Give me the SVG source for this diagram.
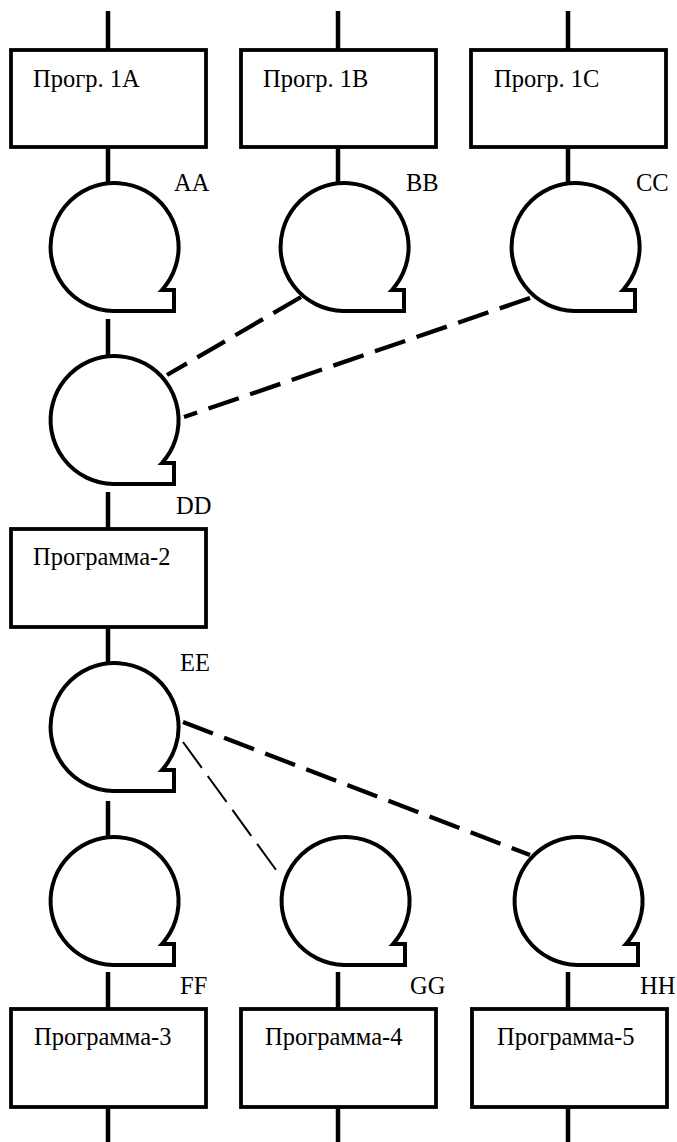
<svg xmlns="http://www.w3.org/2000/svg" xmlns:xlink="http://www.w3.org/1999/xlink" width="677" height="1142" viewBox="0 0 677 1142">
<style>
.box{fill:#fff;stroke:#000;stroke-width:3.8}
.disk{fill:#fff;stroke:#000;stroke-width:4;stroke-linejoin:miter}
.ln{stroke:#000;stroke-width:4.5;fill:none}
.dash{stroke:#000;stroke-width:4.3;stroke-dasharray:32 12;fill:none}
.thin{stroke:#000;stroke-width:2;stroke-dasharray:32 10;fill:none}
text{font-family:"Liberation Serif","Times New Roman",serif;font-size:24.5px;fill:#000}
</style>
<defs>
<path id="diskshape" d="M49,43 A64,64 0 1 0 0,64 L61,64 L61,43 Z"/>
</defs>
<rect width="677" height="1142" fill="#fff"/>
<g id="connectors">
<line class="ln" x1="108" y1="11" x2="108" y2="50"/>
<line class="ln" x1="338" y1="11" x2="338" y2="50"/>
<line class="ln" x1="568" y1="11" x2="568" y2="50"/>
<line class="ln" x1="108" y1="147" x2="108" y2="184"/>
<line class="ln" x1="338" y1="147" x2="338" y2="184"/>
<line class="ln" x1="568" y1="147" x2="568" y2="184"/>
<line class="ln" x1="108" y1="319" x2="108" y2="357"/>
<line class="ln" x1="108" y1="492" x2="108" y2="529"/>
<line class="ln" x1="108" y1="627" x2="108" y2="664"/>
<line class="ln" x1="108" y1="801" x2="108" y2="838"/>
<line class="ln" x1="108" y1="972" x2="108" y2="1009"/>
<line class="ln" x1="338" y1="972" x2="338" y2="1009"/>
<line class="ln" x1="568" y1="972" x2="568" y2="1009"/>
<line class="ln" x1="108" y1="1107" x2="108" y2="1142"/>
<line class="ln" x1="338" y1="1107" x2="338" y2="1142"/>
<line class="ln" x1="568" y1="1107" x2="568" y2="1142"/>
<line class="dash" x1="301" y1="297" x2="167" y2="375"/>
<line class="dash" x1="530" y1="298" x2="184" y2="417"/>
<line class="dash" x1="183" y1="722" x2="530" y2="855"/>
<line class="thin" x1="183" y1="742" x2="279" y2="874"/>
</g>
<g id="prog1a"><rect class="box" x="11" y="50" width="195" height="97"/><text x="33" y="87">Прогр. 1A</text></g>
<g id="prog1b"><rect class="box" x="241" y="50" width="195" height="97"/><text x="263" y="87">Прогр. 1B</text></g>
<g id="prog1c"><rect class="box" x="471" y="50" width="195" height="97"/><text x="494" y="87">Прогр. 1C</text></g>
<g id="AA"><use class="disk" xlink:href="#diskshape" transform="translate(113,247)"/><text x="174" y="191">AA</text></g>
<g id="BB"><use class="disk" xlink:href="#diskshape" transform="translate(343,247)"/><text x="406" y="191">BB</text></g>
<g id="CC"><use class="disk" xlink:href="#diskshape" transform="translate(574,247)"/><text x="636" y="191">CC</text></g>
<g id="DD"><use class="disk" xlink:href="#diskshape" transform="translate(113,420)"/><text x="176" y="514">DD</text></g>
<g id="prog2"><rect class="box" x="11" y="529" width="195" height="98"/><text x="33" y="565">Программа-2</text></g>
<g id="EE"><use class="disk" xlink:href="#diskshape" transform="translate(113,727)"/><text x="180" y="671">EE</text></g>
<g id="FF"><use class="disk" xlink:href="#diskshape" transform="translate(113,901)"/><text x="180" y="994">FF</text></g>
<g id="GG"><use class="disk" xlink:href="#diskshape" transform="translate(344,901)"/><text x="410" y="994">GG</text></g>
<g id="HH"><use class="disk" xlink:href="#diskshape" transform="translate(577,901)"/><text x="640" y="994">HH</text></g>
<g id="prog3"><rect class="box" x="11" y="1009" width="195" height="98"/><text x="34" y="1045">Программа-3</text></g>
<g id="prog4"><rect class="box" x="241" y="1009" width="195" height="98"/><text x="265" y="1045">Программа-4</text></g>
<g id="prog5"><rect class="box" x="472" y="1009" width="195" height="98"/><text x="497" y="1045">Программа-5</text></g>
</svg>
